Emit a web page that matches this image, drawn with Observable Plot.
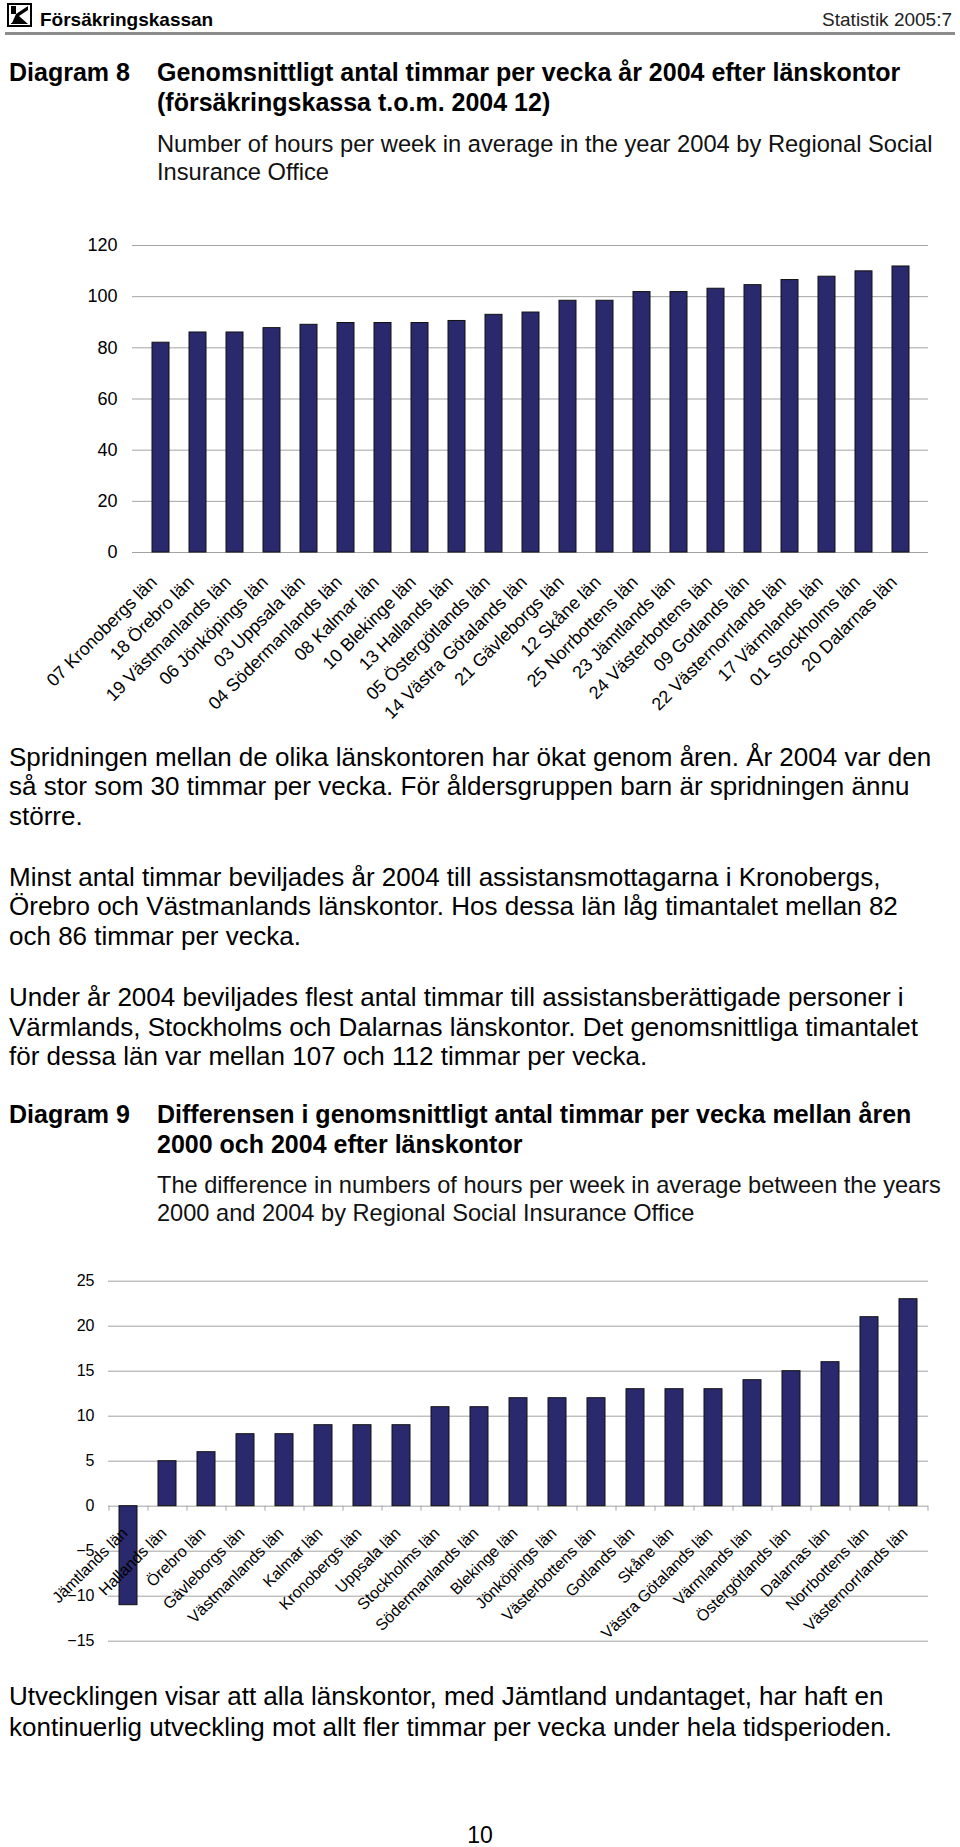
<!DOCTYPE html>
<html>
<head>
<meta charset="utf-8">
<script src="https://cdn.jsdelivr.net/npm/d3@7"></script>
<script src="https://cdn.jsdelivr.net/npm/@observablehq/plot@0.6"></script>
<style>
  html, body { margin: 0; padding: 0; background: #fff; }
  body { width: 960px; height: 1847px; position: relative; overflow: hidden;
         font-family: "Liberation Sans", Arial, Helvetica, sans-serif; color: #000; }
  .abs { position: absolute; white-space: nowrap; }
  .bold { font-weight: bold; }
  #chart1, #chart2 { position: absolute; left: 0; }
  #chart1 { top: 225px; }
  #chart2 { top: 1265px; }
</style>
</head>
<body>
<svg class="abs" style="left:7px;top:3px" width="25" height="24" viewBox="0 0 25 24">
  <rect x="1" y="1" width="23" height="22" fill="#fff" stroke="#000" stroke-width="2"/>
  <path d="M4 3 H9 V11 L21 3 V7 L12 13 L21 21 H4 Z" fill="#000"/>
  <path d="M9 11 L5 20 H4 V11 Z" fill="#fff"/>
</svg>
<div class="abs bold" style="left:40px;top:8px;font-size:19px;line-height:24px">Försäkringskassan</div>
<div class="abs" style="right:8px;top:8px;font-size:19px;line-height:24px;color:#222">Statistik 2005:7</div>
<div class="abs" style="left:5px;top:32px;width:950px;height:3px;background:#8c8c8c"></div>

<div class="abs bold" style="left:9px;top:58px;font-size:25px;line-height:29.5px">Diagram 8</div>
<div class="abs bold" style="left:157px;top:58px;font-size:25px;line-height:29.5px">Genomsnittligt antal timmar per vecka år 2004 efter länskontor<br>(försäkringskassa t.o.m. 2004 12)</div>
<div class="abs" style="left:157px;top:129.5px;font-size:23.7px;line-height:28.3px;color:#111">Number of hours per week in average in the year 2004 by Regional Social<br>Insurance Office</div>

<div id="chart1"></div>

<div class="abs" style="left:9px;top:742.7px;font-size:26px;line-height:29.5px">Spridningen mellan de olika länskontoren har ökat genom åren. År 2004 var den<br>så stor som 30 timmar per vecka. För åldersgruppen barn är spridningen ännu<br>större.</div>
<div class="abs" style="left:9px;top:862.8px;font-size:26px;line-height:29.5px">Minst antal timmar beviljades år 2004 till assistansmottagarna i Kronobergs,<br>Örebro och Västmanlands länskontor. Hos dessa län låg timantalet mellan 82<br>och 86 timmar per vecka.</div>
<div class="abs" style="left:9px;top:983px;font-size:26px;line-height:29.5px">Under år 2004 beviljades flest antal timmar till assistansberättigade personer i<br>Värmlands, Stockholms och Dalarnas länskontor. Det genomsnittliga timantalet<br>för dessa län var mellan 107 och 112 timmar per vecka.</div>

<div class="abs bold" style="left:9px;top:1099px;font-size:25px;line-height:30px">Diagram 9</div>
<div class="abs bold" style="left:157px;top:1099px;font-size:25px;line-height:30px">Differensen i genomsnittligt antal timmar per vecka mellan åren<br>2000 och 2004 efter länskontor</div>
<div class="abs" style="left:157px;top:1171px;font-size:23.6px;line-height:28px;color:#111">The difference in numbers of hours per week in average between the years<br>2000 and 2004 by Regional Social Insurance Office</div>

<div id="chart2"></div>

<div class="abs" style="left:9px;top:1680.5px;font-size:26px;line-height:31px">Utvecklingen visar att alla länskontor, med Jämtland undantaget, har haft en<br>kontinuerlig utveckling mot allt fler timmar per vecka under hela tidsperioden.</div>
<div class="abs" style="left:0;width:960px;text-align:center;top:1821px;font-size:23px;line-height:28px">10</div>

<script>
// ---- Diagram 8 data ----
const offices2004 = [
  "07 Kronobergs län", "18 Örebro län", "19 Västmanlands län", "06 Jönköpings län",
  "03 Uppsala län", "04 Södermanlands län", "08 Kalmar län", "10 Blekinge län",
  "13 Hallands län", "05 Östergötlands län", "14 Västra Götalands län", "21 Gävleborgs län",
  "12 Skåne län", "25 Norrbottens län", "23 Jämtlands län", "24 Västerbottens län",
  "09 Gotlands län", "22 Västernorrlands län", "17 Värmlands län", "01 Stockholms län",
  "20 Dalarnas län"
];
const hours2004 = [82, 86, 86, 87.7, 89, 89.7, 89.7, 89.7, 90.5, 92.9, 93.8, 98.4,
  98.4, 101.8, 101.8, 103.1, 104.5, 106.5, 107.8, 109.9, 111.8];
const yTicks1 = [0, 20, 40, 60, 80, 100, 120];

// ---- Diagram 9 data ----
const officesDiff = [
  "Jämtlands län", "Hallands län", "Örebro län", "Gävleborgs län", "Västmanlands län",
  "Kalmar län", "Kronobergs län", "Uppsala län", "Stockholms län", "Södermanlands län",
  "Blekinge län", "Jönköpings län", "Västerbottens län", "Gotlands län", "Skåne län",
  "Västra Götalands län", "Värmlands län", "Östergötlands län", "Dalarnas län",
  "Norrbottens län", "Västernorrlands län"
];
const diff2000to2004 = [-11, 5, 6, 8, 8, 9, 9, 9, 11, 11, 12, 12, 12, 13, 13, 13, 14, 15, 16, 21, 23];
const yTicks2 = [-15, -10, -5, 0, 5, 10, 15, 20, 25];

const barFill = "#2a296e";
const gridColor = "#a3a3a3";
const font = "'Liberation Sans', Arial, Helvetica, sans-serif";

const data1 = offices2004.map((k, i) => ({office: k, value: hours2004[i]}));
const data2 = officesDiff.map((k, i) => ({office: k, value: diff2000to2004[i]}));

const chart1 = Plot.plot({
  width: 960, height: 500,
  marginLeft: 132, marginRight: 32, marginTop: 20, marginBottom: 173,
  style: {fontFamily: font, color: "#000", background: "transparent", overflow: "visible"},
  x: {domain: offices2004, paddingInner: 0.55, paddingOuter: 0.275, axis: null},
  y: {domain: [0, 120], axis: null},
  marks: [
    Plot.gridY(yTicks1, {stroke: gridColor, strokeOpacity: 1, strokeWidth: 1}),
    Plot.axisY(yTicks1, {tickSize: 0, tickPadding: 15, fontSize: 18, label: null}),
    Plot.barY(data1, {x: "office", y: "value", fill: barFill, stroke: "#111", strokeWidth: 1}),
    Plot.text(data1, {x: "office", frameAnchor: "bottom", text: "office", rotate: -45,
      textAnchor: "end", lineAnchor: "bottom", dy: 31, dx: -3, fontSize: 18, fill: "#000"})
  ]
});
document.getElementById("chart1").appendChild(chart1);

const chart2 = Plot.plot({
  width: 960, height: 390,
  marginLeft: 108, marginRight: 32, marginTop: 15.7, marginBottom: 14.3,
  style: {fontFamily: font, color: "#000", background: "transparent", overflow: "visible"},
  x: {domain: officesDiff, paddingInner: 0.55, paddingOuter: 0.275, axis: null},
  y: {domain: [-15, 25], axis: null},
  marks: [
    Plot.gridY(yTicks2, {stroke: gridColor, strokeOpacity: 1, strokeWidth: 1}),
    Plot.axisY(yTicks2, {tickSize: 0, tickPadding: 14, fontSize: 16, label: null}),
    Plot.ruleX(officesDiff, {x: d => d, y1: 0, y2: 0, insetBottom: -5, dx: -19.5, stroke: gridColor}),
    Plot.ruleX(officesDiff.slice(-1), {x: d => d, y1: 0, y2: 0, insetBottom: -5, dx: 19.5, stroke: gridColor}),
    Plot.barY(data2, {x: "office", y: "value", fill: barFill, stroke: "#111", strokeWidth: 1}),
    Plot.text(data2, {x: "office", y: d => 0, text: "office", rotate: -45,
      textAnchor: "end", lineAnchor: "bottom", dy: 28, dx: 0, fontSize: 16, fill: "#000"})
  ]
});
document.getElementById("chart2").appendChild(chart2);
</script>
</body>
</html>
